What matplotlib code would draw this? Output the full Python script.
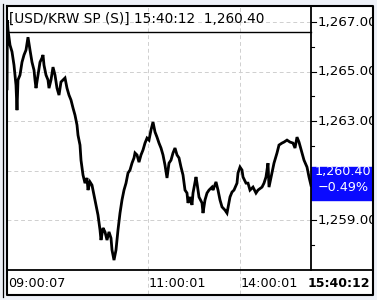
import matplotlib
matplotlib.use("Agg")
import matplotlib.pyplot as plt
from matplotlib.lines import Line2D
from matplotlib.patches import Rectangle

# tick sequence number (x axis is tick based, not clock based) and price
ticks = [0, 2, 5, 15, 25, 35, 40, 45, 50, 55, 65, 75, 85, 95, 105, 115, 125, 135, 140,
         145, 155, 165, 175, 180, 185, 195, 205, 210, 220, 230, 240, 250, 260, 270,
         280, 290, 300, 310, 320, 330, 340, 350, 355, 365, 370, 380, 390, 400, 405,
         415, 425, 435, 445, 455, 465, 470, 480, 490, 500, 510, 520, 525, 535, 545,
         555, 565, 575, 585, 595, 605, 615, 625, 635, 640, 650, 660, 670, 680, 690,
         700, 710, 720, 730, 740, 750, 760, 770, 780, 790, 800, 810, 820, 830, 840,
         850, 860, 870, 880, 890, 900, 905, 915, 925, 930, 945, 950, 960, 975, 980,
         990, 1000, 1010, 1025, 1030, 1045, 1055, 1065, 1075, 1090, 1100, 1115, 1125,
         1135, 1150, 1155, 1165, 1175, 1180, 1195, 1205, 1215, 1230, 1245, 1255, 1275,
         1285, 1295, 1305, 1310, 1325, 1335, 1350, 1360, 1375, 1385, 1400, 1415, 1430,
         1440, 1450, 1460, 1475, 1485, 1500, 1510, 1520]
price = [1264.30, 1267.08, 1266.68, 1266.07, 1265.80, 1265.26, 1264.86, 1264.45, 1263.44,
         1264.66, 1264.86, 1265.38, 1265.67, 1265.87, 1266.39, 1265.87, 1265.38,
         1265.06, 1264.66, 1264.33, 1264.86, 1265.38, 1265.55, 1265.67, 1265.26,
         1264.86, 1264.66, 1264.33, 1264.66, 1265.18, 1264.86, 1264.33, 1264.05,
         1264.58, 1264.66, 1264.74, 1264.33, 1264.05, 1263.85, 1263.53, 1263.24,
         1262.84, 1262.43, 1262.03, 1261.42, 1260.82, 1260.49, 1260.70, 1260.21,
         1260.54, 1260.41, 1260.01, 1259.61, 1259.20, 1258.60, 1258.19, 1258.68,
         1258.52, 1258.19, 1258.52, 1258.27, 1257.79, 1257.38, 1257.79, 1258.60,
         1259.28, 1259.81, 1260.21, 1260.49, 1260.90, 1261.02, 1261.30, 1261.51,
         1261.71, 1261.63, 1261.34, 1261.63, 1261.83, 1262.11, 1262.31, 1262.23,
         1262.64, 1262.96, 1262.56, 1262.35, 1262.11, 1261.91, 1261.63, 1261.22,
         1260.70, 1261.30, 1261.42, 1261.71, 1261.91, 1261.63, 1261.51, 1261.14,
         1260.82, 1260.21, 1260.09, 1259.69, 1259.93, 1259.61, 1260.09, 1260.74,
         1260.49, 1259.93, 1259.69, 1259.28, 1259.81, 1260.09, 1260.21, 1260.33,
         1260.21, 1260.54, 1260.21, 1259.81, 1259.53, 1259.40, 1259.28, 1259.93,
         1260.13, 1260.21, 1260.49, 1260.90, 1261.14, 1261.02, 1260.74, 1260.49,
         1260.49, 1260.21, 1260.33, 1260.09, 1260.21, 1260.33, 1260.49, 1260.74,
         1261.30, 1260.33, 1260.90, 1261.30, 1261.71, 1262.03, 1262.11, 1262.15,
         1262.23, 1262.15, 1262.11, 1261.91, 1262.35, 1262.15, 1261.71, 1261.42,
         1261.14, 1260.74, 1260.40]

title = "[USD/KRW SP (S)] 15:40:12  1,260.40"
last_price = "1,260.40"
change = "\u22120.49%"
time_ticks = [0, 705, 1165]
time_labels = ["09:00:07", "11:00:01", "14:00:01"]
last_time = "15:40:12"
y_major = [1259, 1261, 1263, 1265, 1267]
y_minor = [1258, 1260, 1262, 1264, 1266]

W, H = 377, 300
fig = plt.figure(figsize=(W / 100, H / 100), dpi=100)
fig.patch.set_facecolor("#eef1f8")


def box(x0, y0, x1, y1):
    # pixel box (top-left origin) -> figure fraction rect
    return [x0 / W, 1 - y1 / H, (x1 - x0) / W, (y1 - y0) / H]


ylim = (1256.98, 1267.65)
xlim = (0, 1520)
grid_kw = dict(color="#cfcfcf", lw=0.7, ls=(0, (4, 3)))

ax = fig.add_axes(box(7, 6, 311, 270))
ax.set_xlim(xlim)
ax.set_ylim(ylim)
ax.set_facecolor("white")
for v in y_major:
    ax.axhline(v, **grid_kw, zorder=1)
for t in time_ticks[1:]:
    ax.axvline(t, **grid_kw, zorder=1)
ax.plot(ticks, price, color="black", lw=2.0, zorder=3, solid_joinstyle="miter")
ax.set_xticks([])
ax.set_yticks([])
for s in ax.spines.values():
    s.set_visible(False)

# header strip
ax.text(0.006, 0.952, title, transform=ax.transAxes, fontsize=9.8,
        va="center", ha="left", color="black", zorder=4)

# right price panel
axr = fig.add_axes(box(311, 6, 372, 270))
axr.set_xlim(0, 1)
axr.set_ylim(ylim)
axr.set_facecolor("white")
axr.set_xticks([])
axr.set_yticks([])
for s in axr.spines.values():
    s.set_visible(False)
for v in y_major:
    axr.plot([0, 0.085], [v, v], color="black", lw=0.8)
    if v != 1261:
        axr.text(0.11, v, f"{v:,.2f}", fontsize=9.6, va="center", ha="left",
                 clip_on=True)
for v in y_minor:
    axr.plot([0, 0.05], [v, v], color="black", lw=0.8)
axr.add_patch(Rectangle((0, 1259.81), 1, 1.34, color="#0a0aff", zorder=5))
axr.text(0.52, 1260.95, last_price, fontsize=9.2, color="white", ha="center",
         va="center", zorder=6)
axr.text(0.52, 1260.3, change, fontsize=9.2, color="white", ha="center",
         va="center", zorder=6)

# bottom time panel
axb = fig.add_axes(box(7, 270, 372, 294))
axb.set_xlim(0, (372 - 7) / (311 - 7) * xlim[1])
axb.set_ylim(0, 1)
axb.set_facecolor("white")
axb.set_xticks([])
axb.set_yticks([])
for s in axb.spines.values():
    s.set_visible(False)
for t in time_ticks[1:]:
    axb.axvline(t, **grid_kw)
for t, lab in zip(time_ticks, time_labels):
    axb.text(t + 4, 0.45, lab, fontsize=9.2, va="center", ha="left")
axb.text(0.995, 0.45, last_time, transform=axb.transAxes, fontsize=9,
         fontweight="bold", va="center", ha="right")

# frame lines (figure pixel coords)
def pline(xs, ys, lw=1.3):
    fig.add_artist(Line2D([x / W for x in xs], [1 - y / H for y in ys],
                          color="black", lw=lw, transform=fig.transFigure))


pline([6.5, 372.5, 372.5, 6.5, 6.5], [5.5, 5.5, 294.5, 294.5, 5.5], lw=1.5)
pline([2.5, 2.5], [3.5, 296.5], lw=0.9)
pline([311, 311], [5.5, 270])
pline([6.5, 372.5], [270, 270])
pline([6.5, 311], [32, 32], lw=1.0)

fig.savefig("out.png", dpi=100, facecolor=fig.get_facecolor())
